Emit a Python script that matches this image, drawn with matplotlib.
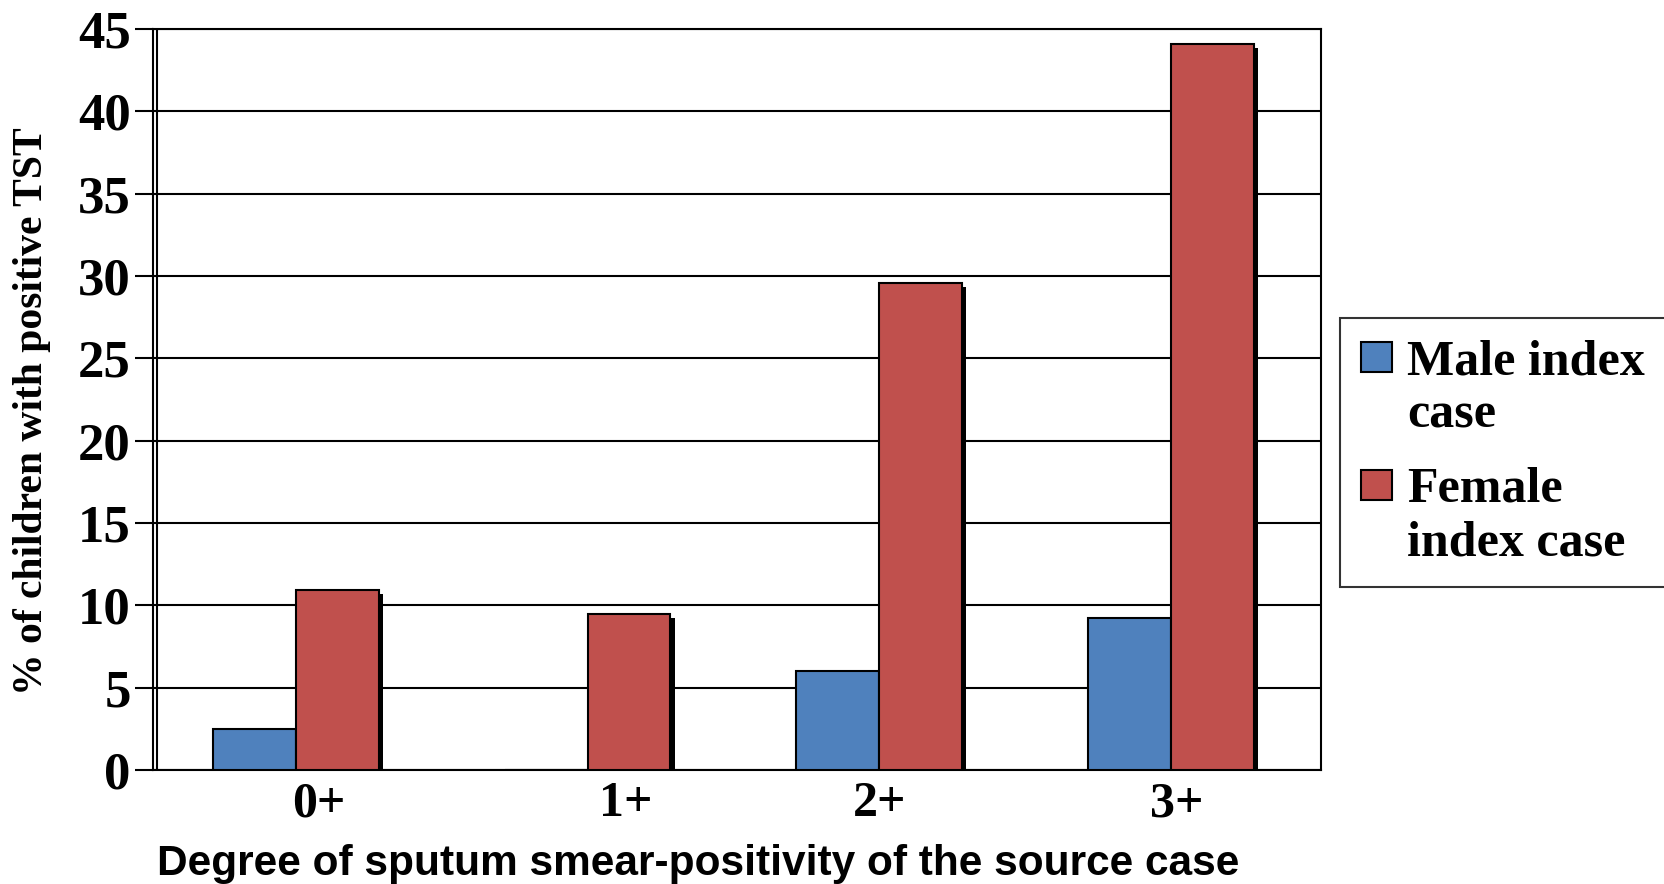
import matplotlib.pyplot as plt
import matplotlib.patheffects as pe
from matplotlib.patches import Patch, Rectangle
from matplotlib.legend_handler import HandlerPatch
import numpy as np

categories = ['0+', '1+', '2+', '3+']
male = [2.5, 0.0, 6.0, 9.25]
female = [10.95, 9.5, 29.6, 44.1]
series_names = ['Male index\ncase', 'Female\nindex case']

blue = '#4F81BD'
red = '#C0504D'
serif = ['Liberation Serif', 'DejaVu Serif']


class TopSquare(HandlerPatch):
    # put the legend square next to the first text line, not the middle
    def create_artists(self, legend, orig_handle, xdescent, ydescent, width, height, fontsize, trans):
        r = Rectangle((-xdescent, -ydescent + 0.63 * fontsize), width, height,
                      facecolor=orig_handle.get_facecolor(), edgecolor='black',
                      linewidth=1.5, transform=trans)
        return [r]


fig = plt.figure(figsize=(16.65, 8.84), dpi=100)
ax = fig.add_axes([0.0919, 0.129, 0.7015, 0.838])

x = np.arange(len(categories))
w = 0.284
shadow = [pe.SimplePatchShadow(offset=(3, -3), shadow_rgbFace='black', alpha=1.0), pe.Normal()]
b1 = ax.bar(x - w / 2, male, w, color=blue, edgecolor='black', linewidth=1.5, zorder=3)
b2 = ax.bar(x + w / 2, female, w, color=red, edgecolor='black', linewidth=1.5, zorder=3)
for b in list(b1) + list(b2):
    b.set_path_effects(shadow)

x0, x1 = -0.490, 3.515
ax.set_ylim(0, 45)
ax.set_xlim(x0, x1)
ax.set_yticks(range(0, 46, 5))
ax.yaxis.grid(True, color='black', linewidth=1.5, zorder=1)
ax.set_axisbelow(True)

for s in ax.spines.values():
    s.set_linewidth(1.5)
    s.set_color('black')
# double wall line on the left
ax.axvline(x0 + 0.0137, color='black', linewidth=1.5, zorder=2)

ax.tick_params(axis='y', direction='out', length=13, width=1.5, pad=3)
ax.tick_params(axis='x', length=0, pad=8)
ax.set_xticks(x + np.array([0.08, 0.13, 0.0, 0.02]))
ax.set_xticklabels(categories)
for lab in ax.get_yticklabels() + ax.get_xticklabels():
    lab.set_family(serif)
    lab.set_fontweight('bold')
for lab in ax.get_yticklabels():
    lab.set_fontsize(38)
for lab in ax.get_xticklabels():
    lab.set_fontsize(36)

ax.set_ylabel('% of children with positive TST', family=serif, fontweight='bold',
              fontsize=30, va='center')
ax.yaxis.set_label_coords(-0.104, 0.485)
ax.set_xlabel('Degree of sputum smear-positivity of the source case',
              family=['Liberation Sans', 'DejaVu Sans'], fontweight='bold', fontsize=30.5, va='center')
ax.xaxis.set_label_coords(0.467, -0.127)

handles = [Patch(facecolor=blue, edgecolor='black', linewidth=1.5),
           Patch(facecolor=red, edgecolor='black', linewidth=1.5)]
leg = fig.legend(handles, series_names, loc='upper left', bbox_to_anchor=(0.805, 0.640, 0.25, 0.0),
                 mode='expand', prop={'family': serif, 'weight': 'bold', 'size': 36},
                 frameon=True, fancybox=False, edgecolor='black', handlelength=0.62,
                 handleheight=0.55, handletextpad=0.3, labelspacing=0.55, borderpad=0.42,
                 borderaxespad=0, handler_map={Patch: TopSquare()})
leg.get_frame().set_linewidth(1.5)
for t in leg.get_texts():
    t.set_linespacing(1.22)

fig.savefig('out.png', dpi=100)
